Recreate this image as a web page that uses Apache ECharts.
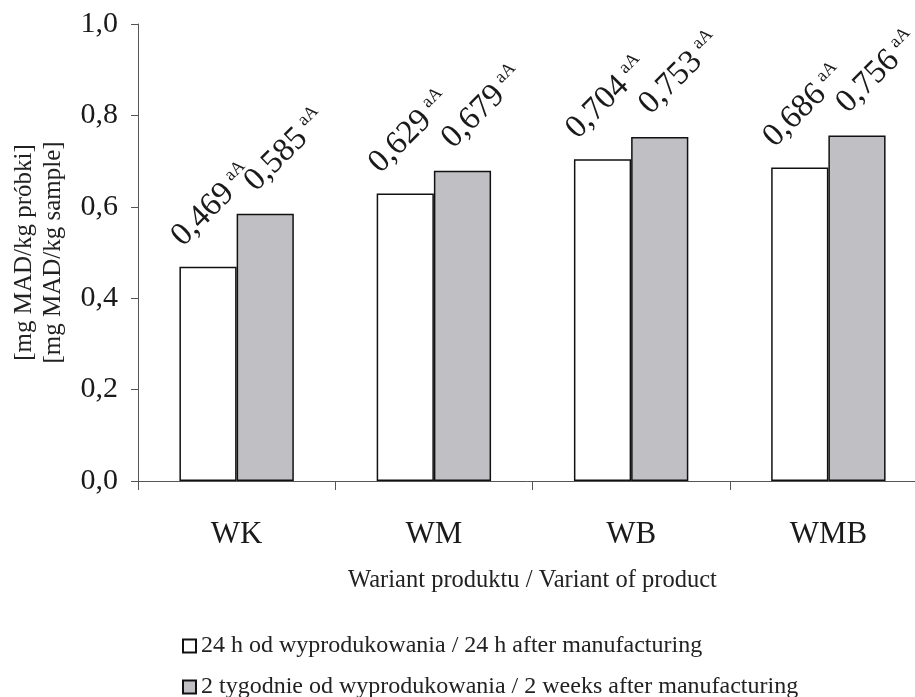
<!DOCTYPE html>
<html><head><meta charset="utf-8">
<script src="https://cdn.jsdelivr.net/npm/echarts@6/dist/echarts.min.js"></script>
<style>html,body{margin:0;padding:0;background:#fff}#c{width:915px;height:697px}</style>
</head><body><div id="c"></div>
<script>
const categories = ['WK', 'WM', 'WB', 'WMB'];
const values24h = [0.469, 0.629, 0.704, 0.686];
const values2w = [0.585, 0.679, 0.753, 0.756];
const letters24h = ['aA', 'aA', 'aA', 'aA'];
const letters2w = ['aA', 'aA', 'aA', 'aA'];
const seriesNames = [
  '24 h od wyprodukowania / 24 h after manufacturing',
  '2 tygodnie od wyprodukowania / 2 weeks after manufacturing'
];
const yMin = 0, yMax = 1.0, yStep = 0.2;
const xAxisTitle = 'Wariant produktu / Variant of product';
const yAxisTitle = '[mg MAD/kg próbki]\n[mg MAD/kg sample]';

const FONT = '"Liberation Serif", "Times New Roman", serif';
const fmt = v => v.toFixed(3).replace('.', ',');

function makeLabel(letters, pos) {
  return {
    show: true,
    position: pos,
    rotate: 45,
    align: 'left',
    verticalAlign: 'middle',
    formatter: p => '{v|' + fmt(p.value) + '}{s|' + letters[p.dataIndex] + '}',
    rich: {
      v: { fontFamily: FONT, fontSize: 33, color: '#1a1a1a', lineHeight: 34, verticalAlign: 'bottom' },
      s: { fontFamily: FONT, fontSize: 18, color: '#1a1a1a', lineHeight: 18, verticalAlign: 'top', padding: [0, 0, 24, 6] }
    }
  };
}

const legendCommon = {
  orient: 'vertical',
  left: 177,
  itemWidth: 13,
  itemHeight: 13,
  icon: 'rect',
  textStyle: { fontFamily: FONT, fontSize: 24, color: '#222' }
};

const chart = echarts.init(document.getElementById('c'), null, { renderer: 'canvas' });
chart.setOption({
  backgroundColor: '#ffffff',
  animation: false,
  grid: { left: 138, top: 24, height: 457, width: 789, containLabel: false, outerBoundsMode: 'none' },
  legend: [
    Object.assign({}, legendCommon, { top: 629, data: [seriesNames[0]] }),
    Object.assign({}, legendCommon, { top: 670, data: [seriesNames[1]] })
  ],
  xAxis: {
    type: 'category',
    data: categories,
    name: xAxisTitle,
    nameLocation: 'middle',
    nameGap: 87,
    nameTextStyle: { fontFamily: FONT, fontSize: 24.5, color: '#222', verticalAlign: 'top' },
    axisLine: { lineStyle: { color: '#555', width: 1 } },
    axisTick: { show: true, length: 9, lineStyle: { color: '#555' } },
    axisLabel: { fontFamily: FONT, fontSize: 31, color: '#1a1a1a', margin: 38 }
  },
  yAxis: {
    type: 'value',
    min: yMin, max: yMax, interval: yStep,
    name: yAxisTitle,
    nameLocation: 'middle',
    nameRotate: 90,
    nameGap: 70,
    nameTextStyle: { fontFamily: FONT, fontSize: 25, color: '#222', lineHeight: 29 },
    splitLine: { show: false },
    axisLine: { show: true, lineStyle: { color: '#555', width: 1 } },
    axisTick: { show: true, length: 7, lineStyle: { color: '#555' } },
    axisLabel: {
      fontFamily: FONT, fontSize: 30, color: '#1a1a1a', margin: 20,
      formatter: v => v.toFixed(1).replace('.', ',')
    }
  },
  series: [
    {
      name: seriesNames[0],
      type: 'bar',
      data: values24h,
      barGap: '0%',
      barCategoryGap: '42%',
      itemStyle: { color: '#ffffff', borderColor: '#111', borderWidth: 1.5 },
      label: makeLabel(letters24h, [-3, -26])
    },
    {
      name: seriesNames[1],
      type: 'bar',
      data: values2w,
      barGap: '0%',
      barCategoryGap: '42%',
      itemStyle: { color: '#c0c0c4', borderColor: '#111', borderWidth: 1.5 },
      label: makeLabel(letters2w, [13, -28])
    }
  ]
});
</script>
</body></html>
